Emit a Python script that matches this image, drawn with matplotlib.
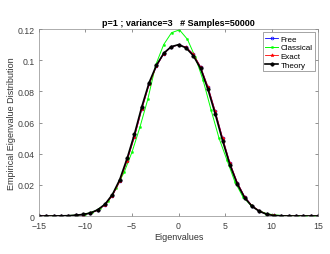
import numpy as np
import matplotlib
matplotlib.use("Agg")
import matplotlib.pyplot as plt

plt.rcParams['font.family'] = ['Liberation Sans', 'DejaVu Sans']

# Theory / Exact / Free evaluated on 39 points from -15 to 15
theory_x = np.linspace(-15, 15, 39)
theory_y = [0.0, 0.0, 0.0, 0.0001, 0.0002, 0.0005, 0.0010, 0.0019, 0.0040, 0.0076,
            0.0138, 0.0234, 0.0370, 0.0526, 0.0702, 0.0857, 0.0969, 0.1046, 0.1087,
            0.1100, 0.1080, 0.1030, 0.0947, 0.0814, 0.0654, 0.0483, 0.0327, 0.0205,
            0.0117, 0.0062, 0.0030, 0.0011, 0.0003, 0.0001, 0.0, 0.0, 0.0, 0.0, 0.0]
exact_y = [0.0, 0.0, 0.0, 0.0001, 0.0002, 0.0005, 0.0009, 0.0018, 0.0037, 0.0072,
           0.0130, 0.0222, 0.0355, 0.0508, 0.0685, 0.0845, 0.0962, 0.1042, 0.1086,
           0.1098, 0.1085, 0.1040, 0.0958, 0.0830, 0.0672, 0.0500, 0.0340, 0.0215,
           0.0124, 0.0066, 0.0033, 0.0013, 0.0004, 0.0001, 0.0, 0.0, 0.0, 0.0, 0.0]
free_y = [0.0, 0.0, 0.0, 0.0001, 0.0002, 0.0005, 0.0009, 0.0018, 0.0037, 0.0072,
          0.0130, 0.0222, 0.0355, 0.0508, 0.0685, 0.0845, 0.0962, 0.1042, 0.1086,
          0.1098, 0.1085, 0.1040, 0.0958, 0.0830, 0.0672, 0.0500, 0.0340, 0.0215,
          0.0124, 0.0066, 0.0033, 0.0013, 0.0004, 0.0001, 0.0, 0.0, 0.0, 0.0, 0.0]

# Classical histogram (own bin centres)
classical_x = [-14.35, -13.5, -12.65, -11.8, -10.95, -10.1, -9.25, -8.4, -7.55, -6.7,
               -5.85, -5.0, -4.15, -3.3, -2.45, -1.6, -0.75, 0.1, 0.95, 1.8, 2.65,
               3.5, 4.35, 5.2, 6.05, 6.9, 7.75, 8.6, 9.45, 10.3, 11.15, 12.0, 12.85,
               13.7, 14.55]
classical_y = [0.0, 0.0, 0.0001, 0.0003, 0.0006, 0.0012, 0.0025, 0.0050, 0.0095, 0.0180,
               0.0280, 0.0410, 0.0570, 0.0750, 0.0970, 0.1100, 0.1177, 0.1195, 0.1135,
               0.1020, 0.0870, 0.0680, 0.0500, 0.0360, 0.0220, 0.0125, 0.0070, 0.0035,
               0.0016, 0.0007, 0.0003, 0.0001, 0.0, 0.0, 0.0]

title = "p=1 ; variance=3   # Samples=50000"
xticks = [-15, -10, -5, 0, 5, 10, 15]
yticks = [0, 0.02, 0.04, 0.06, 0.08, 0.1, 0.12]
ytick_labels = ["0", "0.02", "0.04", "0.06", "0.08", "0.1", "0.12"]

fig = plt.figure(figsize=(3.3, 2.55), dpi=100)
ax = fig.add_axes([0.118, 0.149, 0.846, 0.733])

ax.plot(theory_x, free_y, color='blue', lw=0.6, marker='o', ms=2, mfc='none', mew=0.5, label='Free')
ax.plot(classical_x, classical_y, color='#00ff00', lw=0.7, marker='s', ms=1.2, mew=0.4, label='Classical')
ax.plot(theory_x, exact_y, color='red', lw=0.6, marker='*', ms=2.5, mew=0.4, label='Exact')
ax.plot(theory_x, theory_y, color='black', lw=1.2, marker='o', ms=2.5, mew=0.4, label='Theory')

ax.set_xlim(-15, 15)
ax.set_ylim(0, 0.12)
ax.set_xticks(xticks)
ax.set_yticks(yticks)
ax.set_yticklabels(ytick_labels)
ax.tick_params(direction='in', length=2.5, width=0.4, labelsize=6.3, colors='0.25',
               top=True, right=True)
ax.tick_params(axis='x', pad=3.8)
ax.tick_params(axis='y', pad=3.0)
for s in ax.spines.values():
    s.set_linewidth(0.5)
    s.set_color('0.55')

ax.set_title(title, fontsize=6.5, fontweight='bold', pad=3)
ax.set_xlabel("Eigenvalues", fontsize=6.5, color='0.2', labelpad=1)
ax.set_ylabel("Empirical Eigenvalue Distribution", fontsize=6.5, color='0.2', labelpad=1.5)

leg = ax.legend(loc='upper right', bbox_to_anchor=(0.989, 0.982), borderaxespad=0,
                fontsize=5.8, handlelength=1.6, handletextpad=0.3, labelspacing=0.15,
                borderpad=0.3, fancybox=False, framealpha=1)
leg.get_frame().set_linewidth(0.5)
leg.get_frame().set_edgecolor('0.5')

fig.savefig("out.png", dpi=100)
